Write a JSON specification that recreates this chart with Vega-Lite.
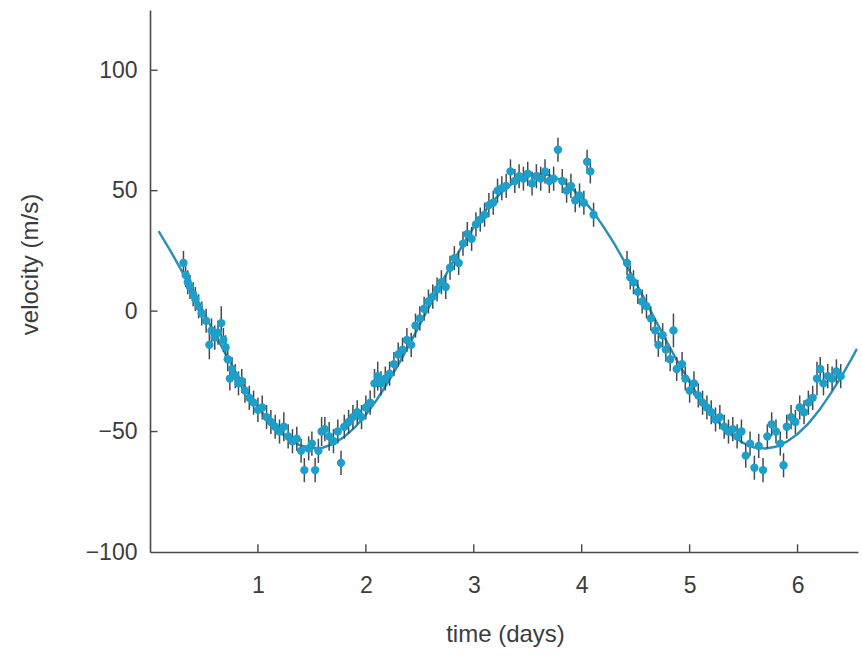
{
  "$schema": "https://vega.github.io/schema/vega-lite/v6.json",
  "autosize": {"type": "none"},
  "width": 708,
  "height": 542,
  "padding": {"left": 150, "top": 10, "right": 4, "bottom": 105},
  "background": "white",
  "config": {
    "view": {"stroke": null},
    "font": "Liberation Sans",
    "axis": {
      "grid": false,
      "ticks": false,
      "domainColor": "#4a4a4a",
      "domainWidth": 1.6,
      "labelFont": "Liberation Sans",
      "labelFontSize": 23,
      "labelColor": "#3c3c3c",
      "titleFont": "Liberation Sans",
      "titleFontSize": 24,
      "titleFontWeight": "normal",
      "titleColor": "#3c3c3c"
    }
  },
  "datasets": {
    "xticks": [{"t": 1}, {"t": 2}, {"t": 3}, {"t": 4}, {"t": 5}, {"t": 6}],
    "yticks": [{"v": -50}, {"v": 0}, {"v": 50}, {"v": 100}],
    "curve": [
      {"t": 0.08, "v": 33.2}, {"t": 0.1, "v": 31.7}, {"t": 0.2, "v": 24.2}, {"t": 0.3, "v": 16.2},
      {"t": 0.4, "v": 7.7}, {"t": 0.5, "v": -0.9}, {"t": 0.6, "v": -9.4}, {"t": 0.7, "v": -17.8},
      {"t": 0.8, "v": -25.8}, {"t": 0.9, "v": -33.2}, {"t": 1.0, "v": -39.8}, {"t": 1.1, "v": -45.5},
      {"t": 1.2, "v": -50.1}, {"t": 1.3, "v": -53.7}, {"t": 1.4, "v": -55.9}, {"t": 1.5, "v": -56.9},
      {"t": 1.6, "v": -56.7}, {"t": 1.7, "v": -55.1}, {"t": 1.8, "v": -52.2}, {"t": 1.9, "v": -48.2},
      {"t": 2.0, "v": -43.0}, {"t": 2.1, "v": -36.9}, {"t": 2.2, "v": -29.9}, {"t": 2.3, "v": -22.3},
      {"t": 2.4, "v": -14.1}, {"t": 2.5, "v": -5.6}, {"t": 2.6, "v": 3.0}, {"t": 2.7, "v": 11.6},
      {"t": 2.8, "v": 19.9}, {"t": 2.9, "v": 27.7}, {"t": 3.0, "v": 34.9}, {"t": 3.1, "v": 41.3},
      {"t": 3.2, "v": 46.7}, {"t": 3.3, "v": 51.1}, {"t": 3.4, "v": 54.3}, {"t": 3.5, "v": 56.3},
      {"t": 3.6, "v": 57.0}, {"t": 3.7, "v": 56.4}, {"t": 3.8, "v": 54.5}, {"t": 3.9, "v": 51.3},
      {"t": 4.0, "v": 47.0}, {"t": 4.1, "v": 41.6}, {"t": 4.2, "v": 35.2}, {"t": 4.3, "v": 28.1},
      {"t": 4.4, "v": 20.3}, {"t": 4.5, "v": 12.0}, {"t": 4.6, "v": 3.4}, {"t": 4.7, "v": -5.2},
      {"t": 4.8, "v": -13.7}, {"t": 4.9, "v": -21.9}, {"t": 5.0, "v": -29.5}, {"t": 5.1, "v": -36.6},
      {"t": 5.2, "v": -42.7}, {"t": 5.3, "v": -47.9}, {"t": 5.4, "v": -51.9}, {"t": 5.5, "v": -54.8},
      {"t": 5.6, "v": -56.6}, {"t": 5.7, "v": -57.0}, {"t": 5.8, "v": -56.3}, {"t": 5.9, "v": -54.2},
      {"t": 6.0, "v": -51.0}, {"t": 6.1, "v": -46.7}, {"t": 6.2, "v": -41.2}, {"t": 6.3, "v": -34.7},
      {"t": 6.4, "v": -27.6}, {"t": 6.5, "v": -19.8}, {"t": 6.55, "v": -15.7}
    ],
    "obs": [
      {"t": 0.31, "v": 20, "e": 5}, {"t": 0.33, "v": 15, "e": 5}, {"t": 0.35, "v": 12, "e": 5},
      {"t": 0.37, "v": 10, "e": 5}, {"t": 0.40, "v": 7, "e": 5}, {"t": 0.42, "v": 5, "e": 5},
      {"t": 0.45, "v": 2, "e": 5}, {"t": 0.48, "v": -1, "e": 5}, {"t": 0.52, "v": -4, "e": 5},
      {"t": 0.55, "v": -14, "e": 6}, {"t": 0.57, "v": -8, "e": 5}, {"t": 0.60, "v": -11, "e": 5},
      {"t": 0.63, "v": -9, "e": 5}, {"t": 0.66, "v": -5, "e": 7}, {"t": 0.68, "v": -12, "e": 5},
      {"t": 0.70, "v": -15, "e": 5}, {"t": 0.72, "v": -20, "e": 5}, {"t": 0.74, "v": -28, "e": 5},
      {"t": 0.76, "v": -24, "e": 5}, {"t": 0.79, "v": -27, "e": 5}, {"t": 0.82, "v": -30, "e": 5},
      {"t": 0.85, "v": -29, "e": 5}, {"t": 0.88, "v": -33, "e": 5}, {"t": 0.92, "v": -36, "e": 5},
      {"t": 0.96, "v": -38, "e": 5}, {"t": 1.00, "v": -41, "e": 5}, {"t": 1.04, "v": -40, "e": 5},
      {"t": 1.08, "v": -44, "e": 5}, {"t": 1.12, "v": -46, "e": 5}, {"t": 1.16, "v": -48, "e": 5},
      {"t": 1.20, "v": -50, "e": 5}, {"t": 1.24, "v": -48, "e": 6}, {"t": 1.28, "v": -52, "e": 5},
      {"t": 1.32, "v": -54, "e": 5}, {"t": 1.36, "v": -53, "e": 5}, {"t": 1.40, "v": -58, "e": 5},
      {"t": 1.43, "v": -66, "e": 5}, {"t": 1.47, "v": -57, "e": 5}, {"t": 1.50, "v": -55, "e": 5},
      {"t": 1.53, "v": -66, "e": 5}, {"t": 1.56, "v": -58, "e": 5}, {"t": 1.59, "v": -50, "e": 6},
      {"t": 1.62, "v": -49, "e": 5}, {"t": 1.66, "v": -52, "e": 6}, {"t": 1.70, "v": -54, "e": 5},
      {"t": 1.74, "v": -50, "e": 5}, {"t": 1.77, "v": -63, "e": 5}, {"t": 1.80, "v": -48, "e": 5},
      {"t": 1.84, "v": -46, "e": 5}, {"t": 1.88, "v": -44, "e": 5}, {"t": 1.92, "v": -42, "e": 5},
      {"t": 1.96, "v": -44, "e": 5}, {"t": 2.00, "v": -40, "e": 5}, {"t": 2.04, "v": -38, "e": 5},
      {"t": 2.08, "v": -30, "e": 6}, {"t": 2.11, "v": -27, "e": 6}, {"t": 2.14, "v": -30, "e": 5},
      {"t": 2.18, "v": -28, "e": 5}, {"t": 2.22, "v": -26, "e": 5}, {"t": 2.26, "v": -22, "e": 5},
      {"t": 2.30, "v": -18, "e": 5}, {"t": 2.34, "v": -16, "e": 5}, {"t": 2.38, "v": -12, "e": 5},
      {"t": 2.42, "v": -14, "e": 5}, {"t": 2.46, "v": -6, "e": 5}, {"t": 2.50, "v": -3, "e": 5},
      {"t": 2.54, "v": 1, "e": 5}, {"t": 2.58, "v": 4, "e": 5}, {"t": 2.62, "v": 6, "e": 5},
      {"t": 2.66, "v": 9, "e": 5}, {"t": 2.70, "v": 12, "e": 5}, {"t": 2.74, "v": 10, "e": 5},
      {"t": 2.78, "v": 18, "e": 5}, {"t": 2.82, "v": 22, "e": 5}, {"t": 2.86, "v": 20, "e": 5},
      {"t": 2.90, "v": 28, "e": 5}, {"t": 2.94, "v": 32, "e": 5}, {"t": 2.98, "v": 30, "e": 5},
      {"t": 3.02, "v": 36, "e": 5}, {"t": 3.06, "v": 38, "e": 5}, {"t": 3.10, "v": 40, "e": 5},
      {"t": 3.14, "v": 44, "e": 5}, {"t": 3.18, "v": 45, "e": 5}, {"t": 3.22, "v": 50, "e": 5},
      {"t": 3.26, "v": 51, "e": 5}, {"t": 3.30, "v": 52, "e": 5}, {"t": 3.34, "v": 58, "e": 5},
      {"t": 3.38, "v": 54, "e": 5}, {"t": 3.42, "v": 56, "e": 5}, {"t": 3.46, "v": 55, "e": 5},
      {"t": 3.50, "v": 57, "e": 5}, {"t": 3.54, "v": 53, "e": 5}, {"t": 3.58, "v": 56, "e": 5},
      {"t": 3.62, "v": 55, "e": 5}, {"t": 3.66, "v": 58, "e": 5}, {"t": 3.70, "v": 54, "e": 5},
      {"t": 3.74, "v": 55, "e": 5}, {"t": 3.78, "v": 67, "e": 5}, {"t": 3.82, "v": 54, "e": 5},
      {"t": 3.86, "v": 50, "e": 5}, {"t": 3.90, "v": 52, "e": 5}, {"t": 3.94, "v": 46, "e": 5},
      {"t": 3.98, "v": 48, "e": 5}, {"t": 4.02, "v": 45, "e": 5}, {"t": 4.05, "v": 62, "e": 5},
      {"t": 4.08, "v": 58, "e": 5}, {"t": 4.11, "v": 40, "e": 5}, {"t": 4.42, "v": 20, "e": 5},
      {"t": 4.45, "v": 14, "e": 5}, {"t": 4.48, "v": 12, "e": 5}, {"t": 4.52, "v": 8, "e": 5},
      {"t": 4.56, "v": 4, "e": 5}, {"t": 4.60, "v": 2, "e": 5}, {"t": 4.64, "v": -3, "e": 5},
      {"t": 4.68, "v": -8, "e": 5}, {"t": 4.71, "v": -14, "e": 5}, {"t": 4.75, "v": -10, "e": 5},
      {"t": 4.78, "v": -16, "e": 5}, {"t": 4.82, "v": -20, "e": 5}, {"t": 4.85, "v": -8, "e": 7},
      {"t": 4.88, "v": -24, "e": 5}, {"t": 4.93, "v": -22, "e": 5}, {"t": 4.96, "v": -28, "e": 5},
      {"t": 5.00, "v": -33, "e": 5}, {"t": 5.04, "v": -30, "e": 5}, {"t": 5.08, "v": -35, "e": 5},
      {"t": 5.12, "v": -38, "e": 5}, {"t": 5.16, "v": -40, "e": 5}, {"t": 5.20, "v": -42, "e": 5},
      {"t": 5.24, "v": -45, "e": 5}, {"t": 5.28, "v": -44, "e": 5}, {"t": 5.32, "v": -48, "e": 5},
      {"t": 5.36, "v": -50, "e": 5}, {"t": 5.40, "v": -49, "e": 5}, {"t": 5.44, "v": -52, "e": 5},
      {"t": 5.48, "v": -50, "e": 5}, {"t": 5.52, "v": -60, "e": 5}, {"t": 5.56, "v": -55, "e": 5},
      {"t": 5.60, "v": -65, "e": 5}, {"t": 5.64, "v": -56, "e": 5}, {"t": 5.68, "v": -66, "e": 5},
      {"t": 5.72, "v": -52, "e": 5}, {"t": 5.76, "v": -47, "e": 5}, {"t": 5.80, "v": -50, "e": 5},
      {"t": 5.84, "v": -55, "e": 5}, {"t": 5.87, "v": -64, "e": 5}, {"t": 5.90, "v": -48, "e": 5},
      {"t": 5.94, "v": -44, "e": 5}, {"t": 5.98, "v": -46, "e": 5}, {"t": 6.02, "v": -40, "e": 5},
      {"t": 6.06, "v": -42, "e": 5}, {"t": 6.10, "v": -38, "e": 5}, {"t": 6.14, "v": -36, "e": 5},
      {"t": 6.18, "v": -28, "e": 7}, {"t": 6.21, "v": -24, "e": 5}, {"t": 6.24, "v": -30, "e": 5},
      {"t": 6.28, "v": -27, "e": 5}, {"t": 6.32, "v": -28, "e": 5}, {"t": 6.36, "v": -25, "e": 5},
      {"t": 6.40, "v": -27, "e": 5}
    ]
  },
  "layer": [
    {
      "data": {"name": "curve"},
      "mark": {"type": "line", "color": "#2a8fb4", "strokeWidth": 2.4},
      "encoding": {
        "x": {
          "field": "t", "type": "quantitative", "title": "time (days)",
          "scale": {"domain": [0, 6.56], "nice": false, "zero": false},
          "axis": {"values": [1, 2, 3, 4, 5, 6], "format": "d", "labelPadding": 22,
                   "titleX": 355, "titleY": 82, "titleBaseline": "middle"}
        },
        "y": {
          "field": "v", "type": "quantitative", "title": "velocity (m/s)",
          "scale": {"domain": [-100, 125], "nice": false},
          "axis": {"values": [-100, -50, 0, 50, 100], "format": "d", "labelPadding": 13,
                   "titleX": -120, "titleY": 254, "titleBaseline": "middle"}
        }
      }
    },
    {
      "data": {"name": "xticks"},
      "mark": {"type": "rule", "color": "#4a4a4a", "strokeWidth": 1.4},
      "encoding": {
        "x": {"field": "t", "type": "quantitative", "title": "time (days)"},
        "y": {"datum": -100},
        "y2": {"datum": -96.8}
      }
    },
    {
      "data": {"name": "yticks"},
      "mark": {"type": "rule", "color": "#4a4a4a", "strokeWidth": 1.4},
      "encoding": {
        "y": {"field": "v", "type": "quantitative", "title": "velocity (m/s)"},
        "x": {"datum": 0},
        "x2": {"datum": 0.07}
      }
    },
    {
      "data": {"name": "obs"},
      "mark": {"type": "errorbar", "color": "#3f4d52", "thickness": 1.5},
      "encoding": {
        "x": {"field": "t", "type": "quantitative", "title": "time (days)"},
        "y": {"field": "v", "type": "quantitative", "title": "velocity (m/s)"},
        "yError": {"field": "e"}
      }
    },
    {
      "data": {"name": "obs"},
      "mark": {"type": "point", "shape": "circle", "filled": true, "size": 70, "color": "#1c9fca", "opacity": 1},
      "encoding": {
        "x": {"field": "t", "type": "quantitative", "title": "time (days)"},
        "y": {"field": "v", "type": "quantitative", "title": "velocity (m/s)"}
      }
    }
  ]
}
